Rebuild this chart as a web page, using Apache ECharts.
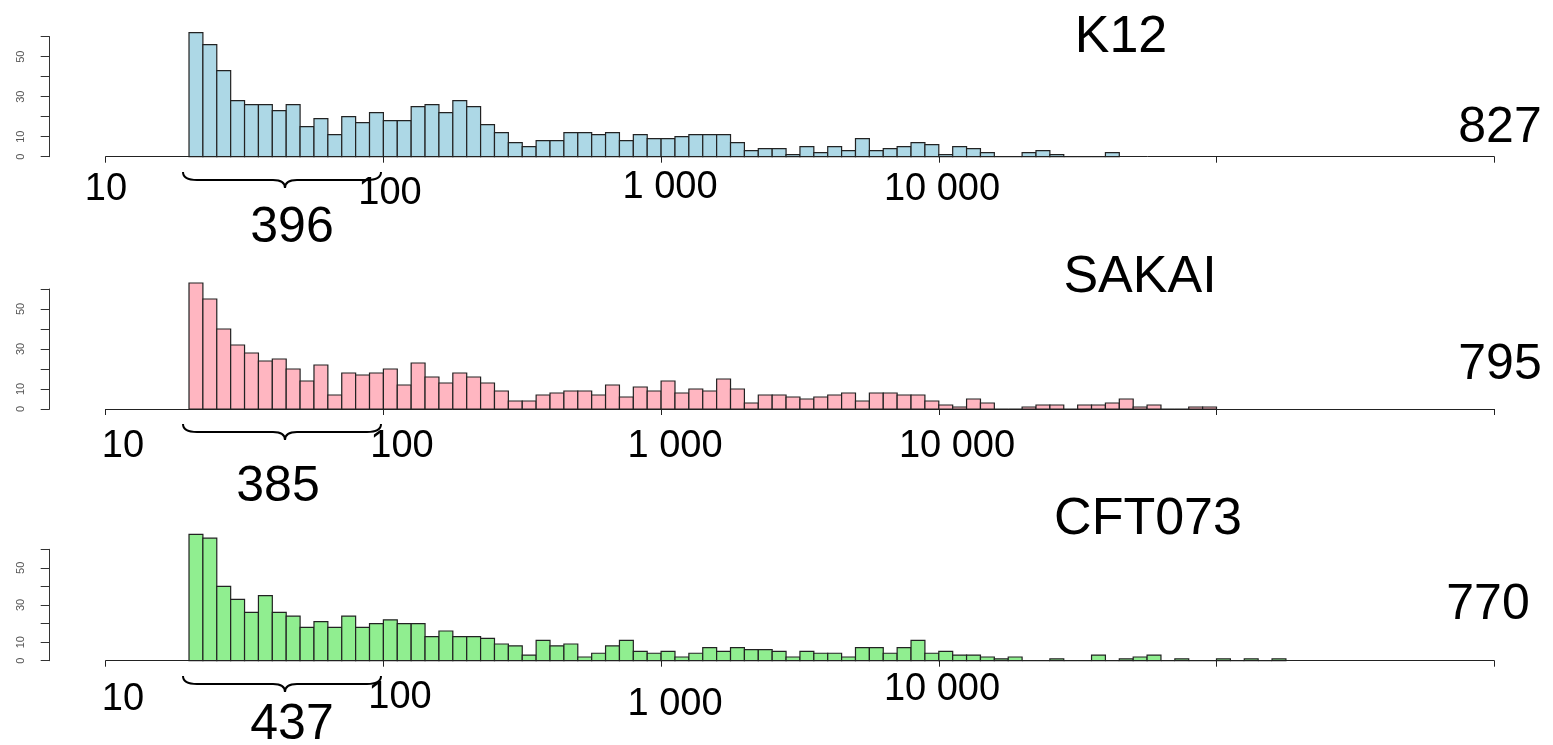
<!DOCTYPE html>
<html>
<head>
<meta charset="utf-8">
<script src="https://cdn.jsdelivr.net/npm/echarts@6/dist/echarts.min.js"></script>
<style>
html,body{margin:0;padding:0;background:#fff;}
#chart{width:1553px;height:745px;}
</style>
</head>
<body>
<div id="chart"></div>
<script>
// ---- data ----
const binStartLog = 1.3;   // first bin lower edge = 10^1.3 (= 20)
const binWidthLog = 0.05;  // 20 bins per decade
const k12Counts = [62,56,43,28,26,26,23,26,15,19,11,20,17,22,18,18,25,26,22,28,25,16,12,7,5,8,8,12,12,11,12,8,11,9,9,10,11,11,11,7,3,4,4,1,5,2,5,3,9,3,4,5,7,6,1,5,4,2,0,0,2,3,1,0,0,0,2];
const sakaiCounts = [63,55,40,32,28,24,25,20,14,22,7,18,17,18,20,12,23,16,13,18,16,13,9,4,4,7,8,9,9,7,12,6,11,9,14,8,10,9,15,10,3,7,7,6,5,6,7,8,4,8,8,7,7,4,2,1,5,3,0,0,1,2,2,0,2,2,3,5,1,2,0,0,1,1];
const cft073Counts = [68,66,40,33,26,35,26,24,18,21,18,24,18,20,22,20,20,13,16,13,13,12,9,8,3,11,8,9,2,4,8,11,5,4,5,2,4,7,5,7,6,6,5,2,5,4,4,2,7,7,4,7,11,4,5,3,3,2,1,2,0,0,1,0,0,3,0,1,2,3,0,1,0,0,1,0,1,0,1];
const strainNames = ['K12', 'SAKAI', 'CFT073'];
const totalLabels = ['827', '795', '770'];
const shortLabels = ['396', '385', '437'];
const tickLabels = ['10', '100', '1 000', '10 000'];
const yLabelValues = [0, 10, 30, 50];

// ---- layout ----
const W = 1553;
const axisLeft = 105.7, axisRight = 1494.2;
const panels = [
  {top: 36.7, height: 120, color: '#ADD8E6', counts: k12Counts},
  {top: 289, height: 120, color: '#FFB6C1', counts: sakaiCounts},
  {top: 549.3, height: 111.4, color: '#90EE90', counts: cft073Counts}
];
const tickLabelPos = [
  [[106,190],[390,194],[670,188],[942,190]],
  [[123,447],[402,447],[675,447],[957,447]],
  [[123,700],[400,698],[675,705],[942,690]]
];
const titlePos = [[1121,38],[1140,278],[1148,520]];
const totalPos = [[1500,128],[1500,365],[1488,605]];
const shortPos = [[292,228],[278,487],[292,725]];
const braceY = [172, 424, 676];

const FONT = '"Liberation Sans", Arial, sans-serif';

const grids = [], xAxes = [], yAxes = [], series = [];
panels.forEach((p, i) => {
  grids.push({left: axisLeft, right: W - axisRight, top: p.top, height: p.height, containLabel: false});
  xAxes.push({
    type: 'log', logBase: 10, min: 10, max: 1000000, gridIndex: i, offset: 5,
    axisLine: {show: true, lineStyle: {color: '#222', width: 1}},
    axisTick: {show: true, inside: false, length: 6, lineStyle: {color: '#222'}},
    axisLabel: {show: false}, splitLine: {show: false}, minorTick: {show: false}
  });
  yAxes.push({
    type: 'value', min: 0, max: 60, interval: 10, gridIndex: i, offset: 56,
    axisLine: {show: true, lineStyle: {color: '#333', width: 1}},
    axisTick: {show: true, inside: false, length: 9, lineStyle: {color: '#333'}},
    axisLabel: {
      show: true, rotate: 90, fontSize: 11, color: '#555', margin: 23, fontFamily: FONT,
      formatter: v => (yLabelValues.indexOf(v) >= 0 ? String(v) : '')
    },
    splitLine: {show: false}
  });
  const data = p.counts.map((c, k) => [
    Math.pow(10, binStartLog + k * binWidthLog),
    Math.pow(10, binStartLog + (k + 1) * binWidthLog),
    c
  ]);
  series.push({
    type: 'custom', xAxisIndex: i, yAxisIndex: i, clip: false, silent: true,
    encode: {x: [0, 1], y: 2},
    data: data,
    renderItem: function (params, api) {
      const lo = api.value(0), hi = api.value(1), c = api.value(2);
      const a = api.coord([lo, c]);
      const b = api.coord([hi, 0]);
      return {
        type: 'rect',
        shape: {x: a[0], y: a[1], width: b[0] - a[0], height: b[1] - a[1]},
        style: {fill: p.color, stroke: '#222', lineWidth: 1.2}
      };
    }
  });
});

const graphic = [];
function txt(text, pos, size) {
  graphic.push({
    type: 'text', x: pos[0], y: pos[1], silent: true,
    style: {text: text, fill: '#000', fontSize: size, fontFamily: FONT,
            textAlign: 'center', textVerticalAlign: 'middle'}
  });
}
const braceStyle = {stroke: '#000', lineWidth: 2, fill: null};
function curve(xa, ya, cx, cy, xb, yb) {
  graphic.push({type: 'bezierCurve', silent: true,
    shape: {x1: xa, y1: ya, cpx1: cx, cpy1: cy, x2: xb, y2: yb}, style: braceStyle});
}
function seg(xa, ya, xb, yb) {
  graphic.push({type: 'line', silent: true,
    shape: {x1: xa, y1: ya, x2: xb, y2: yb}, style: braceStyle});
}
panels.forEach((p, i) => {
  tickLabels.forEach((t, j) => txt(t, tickLabelPos[i][j], 38));
  txt(strainNames[i], titlePos[i], 52);
  txt(totalLabels[i], totalPos[i], 50);
  txt(shortLabels[i], shortPos[i], 50);
  const x0 = 183, x1 = 381, xm = 285, yt = braceY[i], yl = yt + 8, yp = yt + 16;
  curve(x0, yt, x0, yl, x0 + 14, yl);
  seg(x0 + 14, yl, xm - 12, yl);
  curve(xm - 12, yl, xm, yl, xm, yp);
  curve(xm + 12, yl, xm, yl, xm, yp);
  seg(xm + 12, yl, x1 - 14, yl);
  curve(x1 - 14, yl, x1, yl, x1, yt);
});

const chart = echarts.init(document.getElementById('chart'), null, {renderer: 'canvas'});
chart.setOption({
  animation: false,
  backgroundColor: '#fff',
  grid: grids, xAxis: xAxes, yAxis: yAxes, series: series,
  graphic: graphic
});
</script>
</body>
</html>
